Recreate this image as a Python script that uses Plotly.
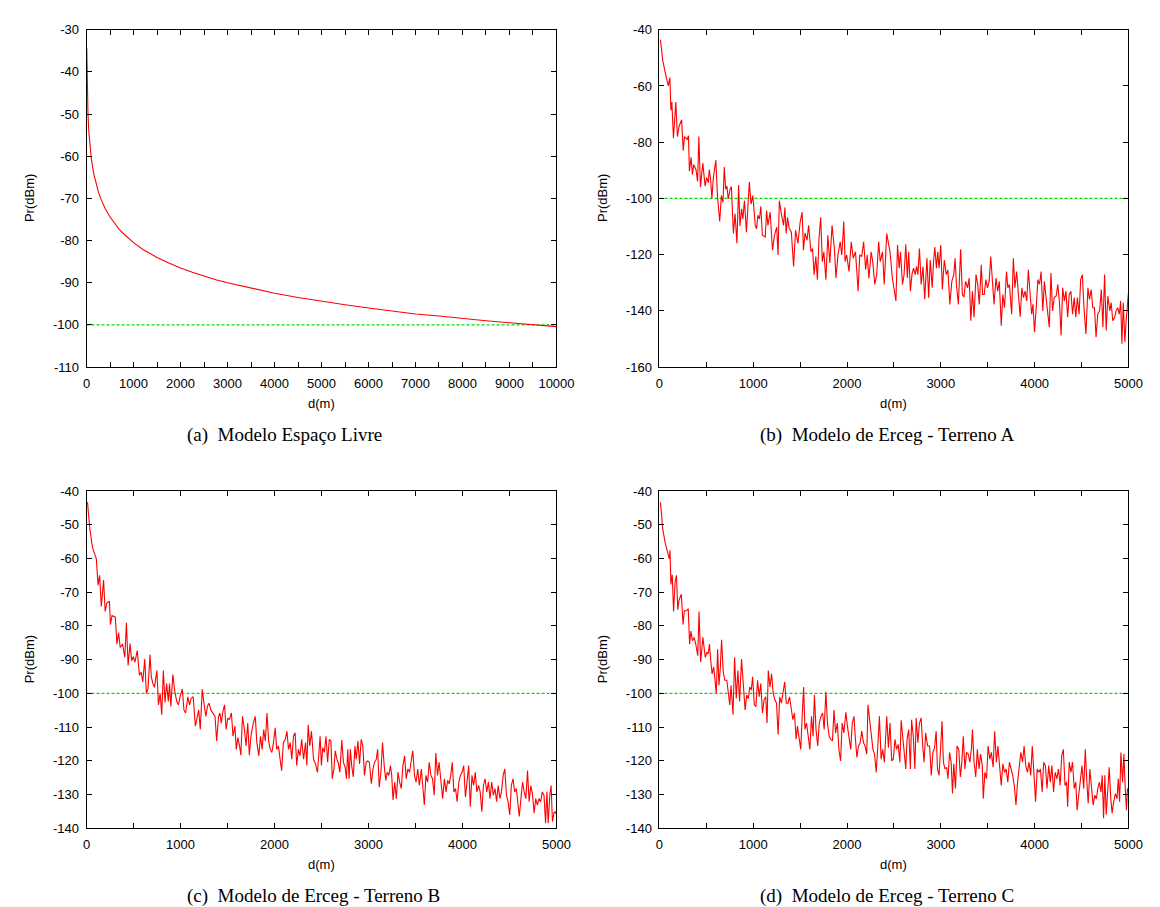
import plotly.graph_objects as go

# ---------------- data ----------------
THRESHOLD_DBM = -100

# (a) Free-space model
A_D = [5, 10, 20, 30, 50, 75, 100, 150, 200, 250, 300, 350, 400, 500, 600, 700, 800, 1000,
       1200, 1500, 1750, 2000, 2250, 2500, 2750, 3000, 3500, 4000, 4500, 5000, 5500, 6000,
       6500, 7000, 7500, 8000, 8500, 9000, 9500, 10000]
A_PR = [-34.4, -40.5, -46.5, -50.0, -54.4, -58.0, -60.5, -64.0, -66.5, -68.4, -70.0, -71.3,
        -72.5, -74.4, -76.0, -77.4, -78.5, -80.5, -82.1, -84.0, -85.3, -86.5, -87.5, -88.4,
        -89.3, -90.0, -91.3, -92.5, -93.5, -94.4, -95.2, -96.0, -96.7, -97.4, -97.9, -98.5,
        -99.0, -99.5, -100.0, -100.4]

# (b) Erceg - terrain A
B_D = [10, 35, 69, 94, 111, 122, 132, 149, 174, 191, 208, 236, 253, 267, 295, 309, 319, 337,
       351, 365, 389, 406, 420, 437, 462, 486, 503, 521, 531, 545, 559, 573, 601, 618, 642,
       660, 677, 691, 705, 719, 733, 753, 767, 788, 806, 826, 844, 858, 875, 889, 906, 927,
       958, 976, 996, 1021, 1035, 1049, 1066, 1080, 1097, 1128, 1142, 1156, 1180, 1205, 1226,
       1250, 1264, 1278, 1302, 1323, 1337, 1351, 1365, 1382, 1406, 1430, 1451, 1476, 1500,
       1521, 1535, 1552, 1573, 1590, 1615, 1632, 1649, 1667, 1684, 1701, 1719, 1736, 1753,
       1774, 1795, 1816, 1840, 1865, 1882, 1903, 1927, 1944, 1965, 1979, 1996, 2021, 2045,
       2066, 2090, 2118, 2135, 2156, 2177, 2198, 2215, 2233, 2257, 2274, 2295, 2316, 2337,
       2354, 2378, 2396,
       2423, 2441, 2458, 2483, 2500, 2521, 2538, 2556, 2570, 2591, 2608, 2626, 2643, 2657,
       2675, 2692, 2709, 2727, 2741, 2755, 2772, 2790, 2810, 2828, 2852, 2870, 2887, 2908,
       2922, 2936, 2953, 2967, 2981, 2999, 3016, 3037, 3058, 3075, 3096, 3117, 3138, 3152,
       3166, 3187, 3211, 3229, 3246, 3264, 3285, 3302, 3320, 3337, 3354, 3375, 3393, 3410,
       3431, 3445, 3463, 3480, 3497, 3515, 3532, 3550, 3567, 3588, 3606, 3623, 3644, 3661,
       3679, 3700, 3714, 3731, 3755, 3773, 3790, 3808, 3829, 3846, 3864, 3881, 3898, 3916,
       3933, 3954, 3968, 3982, 3999, 4017, 4034, 4052, 4069, 4087, 4104, 4122, 4139, 4156,
       4174, 4191, 4209, 4230, 4247, 4265, 4282, 4299, 4317, 4334, 4352, 4369, 4387, 4404,
       4422, 4439, 4456, 4474, 4491, 4509, 4526, 4547, 4568, 4585, 4603, 4620, 4638, 4655,
       4673, 4693, 4711, 4728, 4746, 4763, 4781, 4802, 4816, 4833, 4854, 4868, 4885, 4903,
       4917, 4931, 4945, 4962, 4976, 5000]
B_PR = [-43.5, -51, -56.4, -60, -57, -68.6, -65.7, -78.6, -65.7, -78, -74.5, -72, -83, -78,
        -79, -77.7, -90.3, -85.4, -91.5, -88, -89.7, -94, -78, -96, -87.4, -95.6, -92.6,
        -94.4, -89.7, -93.2, -100, -93, -86.4, -99, -108.2, -99, -101.4, -88.8, -96.7,
        -95.6, -100.2, -96.7, -95.8, -112.5, -105.5, -116, -95.2, -109.8, -103.7, -107.3,
        -100.8, -112, -94.2, -102, -99, -109.6, -110.8, -106, -107.3, -102.8, -113.1,
        -113.7, -104.3, -109.6, -104.9, -118.4, -113.1, -110.2, -120.1, -100.8, -106,
        -109.6, -103.2, -112.5, -106.7, -110.5, -112, -124.2, -111.3, -116, -108.4, -104.9,
        -118.4, -112.3, -114.9, -109.6, -119, -117.8, -127.1, -120.7, -128.9, -114.3,
        -106.7, -122.5, -119, -128.9, -113.1, -123, -109.6, -117.8, -128.3, -120.1, -115.4,
        -120.1, -108.2, -122.5, -120.1, -126, -115.4, -121.3, -119, -133, -120.1, -120.7,
        -115.4, -125.4, -120.1, -128.5, -119, -122.5, -130.6, -127.1, -115.4, -122.5, -119,
        -130.6,
        -112.5, -115.4, -119, -128.3, -131.8, -136.5, -116.6, -124.8, -119, -130.6, -127.1,
        -116.3, -128.3, -119, -133, -127.1, -124.8, -127.1, -124.2, -127.1, -117.8, -130.6,
        -124.2, -135.9, -121.3, -135.3, -121.9, -131.8, -122.5, -117.3, -124.8, -119,
        -124.8, -116.6, -132.4, -121.9, -127.1, -125.4, -137.7, -129.5, -127.1, -121.3,
        -130.6, -137.7, -118.1, -134.2, -135.1, -129.5, -131.8, -128.3, -143.5, -133,
        -142.3, -127.1, -130.6, -137.7, -123.6, -134.2, -134.2, -128.9, -131.8, -129.5,
        -120.7, -129.5, -137.7, -128.3, -133, -129.5, -145.3, -134.2, -138.9, -126, -131.8,
        -130.6, -141.2, -121.3, -131.8, -126, -134.2, -142.1, -131.8, -135.3, -133, -136.5,
        -125.4, -135.3, -141.2, -137.7, -147.6, -138.9, -128.9, -130.6, -126, -140, -129.5,
        -135.3, -140, -145.8, -126.5, -140, -135.3, -134.7, -130.6, -137.1, -148.8, -131.8,
        -136.5, -133, -142.3, -134.2, -133, -141.2, -135.3, -142.3, -135.3, -141.2, -128.9,
        -127.1, -138.9, -148.2, -131.8, -135.9, -132.4, -138.9, -138.9, -149.4, -141.2,
        -140, -132.4, -145.8, -127.1, -147, -134.7, -140, -137.1, -143.5, -142.3, -140,
        -138.9, -141.2, -136.5, -151.7, -137.1, -151.1, -143.5, -133.6]

# (c) Erceg - terrain B
C_D = [10, 35, 63, 87, 104, 122, 139, 157, 181, 198, 216, 243, 254, 271, 306, 323, 341, 358,
       383, 407, 424, 442, 463, 480, 497, 515, 539, 563, 581, 598, 619, 636, 654, 675, 689,
       706, 723, 748, 765, 783, 800, 817, 835, 852, 870, 883, 897, 918, 939, 960, 977, 995,
       1019, 1036, 1054, 1078, 1096, 1113, 1134, 1158, 1176, 1193, 1210, 1231, 1249, 1269,
       1287, 1304, 1322, 1346, 1367, 1384, 1405, 1419, 1433, 1450, 1468, 1485, 1503, 1520,
       1541, 1558, 1579, 1593, 1610, 1628, 1642, 1659, 1680, 1697, 1715, 1732, 1749, 1774,
       1795, 1812, 1833, 1850, 1868, 1885, 1902, 1920, 1937, 1955, 1972, 1989, 2007, 2024,
       2042, 2059, 2076, 2094, 2115, 2132, 2149, 2167, 2184, 2202, 2219, 2236, 2254, 2271,
       2289, 2309, 2330, 2344, 2358, 2375, 2393,
       2415, 2436, 2457, 2474, 2485, 2499, 2513, 2530, 2548, 2565, 2583, 2600, 2614, 2632,
       2646, 2663, 2677, 2695, 2716, 2733, 2751, 2765, 2779, 2793, 2807, 2821, 2838, 2856,
       2870, 2887, 2905, 2922, 2940, 2957, 2975, 2992, 3009, 3030, 3048, 3065, 3083, 3097,
       3114, 3132, 3149, 3167, 3184, 3198, 3216, 3233, 3247, 3261, 3279, 3296, 3314, 3331,
       3349, 3366, 3384, 3401, 3419, 3436, 3454, 3471, 3489, 3506, 3524, 3541, 3562, 3580,
       3594, 3611, 3629, 3646, 3664, 3681, 3699, 3716, 3734, 3751, 3769, 3789, 3807, 3825,
       3842, 3859, 3877, 3891, 3908, 3926, 3943, 3961, 3978, 3996, 4013, 4031, 4048, 4066,
       4083, 4101, 4118, 4136, 4153, 4171, 4188, 4206, 4223, 4241, 4258, 4276, 4293, 4311,
       4328, 4346, 4363, 4380, 4398, 4415, 4433, 4450, 4468, 4485, 4503, 4520, 4538, 4555,
       4573, 4590, 4604, 4622, 4639, 4657, 4674, 4692, 4709, 4727, 4744, 4762, 4779, 4797,
       4814, 4832, 4849, 4867, 4884, 4898, 4912, 4929, 4943, 4957, 4975, 4992, 5000]
C_PR = [-43.3, -51.3, -56.7, -59.1, -60.1, -67.9, -65, -74.2, -66.4, -75.7, -73.2, -72.7,
        -79.6, -76.9, -77.4, -85.4, -82, -86.4, -85.4, -89.3, -79.1, -91.7, -85.2, -90.3,
        -89.1, -90.7, -87.3, -94.6, -93.7, -96.6, -89.8, -100, -98.5, -88.5, -95.1, -97.1,
        -98.2, -93.2, -103.4, -100, -106.3, -93.2, -102.7, -97.1, -102.4, -97.1, -103.9,
        -94.4, -99.5, -102.4, -103.4, -101, -98.7, -104.9, -105.8, -101, -103.4, -101.5,
        -101, -109.7, -106.8, -104.9, -110.7, -98.8, -102.9, -106.8, -103.7, -102.9, -104.9,
        -105.8, -106.8, -114.1, -106.8, -105.8, -108.8, -105.4, -103.4, -110.7, -107.3,
        -107.8, -105.8, -112.7, -109.7, -116.6, -113.1, -115.6, -118.3, -106.8, -110.7,
        -115.6, -108.8, -118.3, -112.7, -108.8, -106.8, -114.6, -118.5, -112.7, -116.6,
        -110.7, -114.1, -105.8, -114.1, -116.6, -117.5, -114.6, -110.2, -116.6, -115.6,
        -119.5, -122.9, -114.6, -113.6, -111.2, -116.6, -114.6, -119.5, -112.7, -111.7,
        -121.4, -116.6, -118.5, -113.6, -119.5, -114.6, -121.4, -109.3, -115.6, -111.2,
        -119.5, -120.9, -123.4, -117.5, -112.7, -121.4, -116.1, -117.5, -112.7, -120.4,
        -113.6, -114.1, -125.3, -122.4, -117, -119.5, -120.4, -123.4, -113.8, -120.4,
        -121.9, -125.3, -116.6, -125.3, -116.6, -121.4, -124.8, -115.6, -119.5, -114.1,
        -120.9, -113.6, -115.6, -124.3, -120.4, -120, -120.4, -126.8, -122.4, -120.4,
        -119.5, -116.6, -127.8, -123.4, -114.6, -121.4, -125.8, -123.4, -124.3, -121.4,
        -124.3, -131.6, -126.3, -131.2, -123.4, -126.3, -128.2, -121.4, -118.5, -125.3,
        -122.4, -123.4, -119.5, -117, -124.3, -126.3, -122.4, -127.3, -122.4, -128.2,
        -133.1, -124.3, -126.3, -120.4, -124.3, -125.3, -130.2, -117.7, -124.3, -120.4,
        -126.3, -131.2, -125.3, -129.2, -125.8, -126.8, -123.9, -120.4, -129.2, -128.2,
        -132.1, -126.3, -124.3, -123.4, -121.4, -130.7, -126.3, -121.4, -133.6, -124.3,
        -127.3, -123.4, -129.2, -127.3, -129.2, -135.1, -127.3, -125.3, -129.2, -126.3,
        -131.2, -126.3, -130.2, -128.2, -132.1, -127.3, -131.2, -129.2, -124.3, -122.4,
        -130.2, -132.1, -136, -127.3, -125.3, -129.2, -128.2, -132.1, -136.5, -131.2,
        -126.3, -129.2, -131.2, -122.9, -132.1, -127.3, -129.7, -135.5, -131.2, -133.1,
        -131.2, -132.1, -129.2, -130.2, -138.5, -129.2, -138.5, -130.2, -127.3, -138,
        -135.1, -135.5, -134.6]

# (d) Erceg - terrain C
D_D = [10, 35, 63, 87, 105, 112, 122, 136, 150, 167, 181, 195, 209, 233, 251, 265, 289, 307,
       321, 335, 352, 369, 387, 408, 422, 439, 463, 488, 505, 519, 533, 547, 561, 578, 596,
       606, 620, 634, 648, 662, 680, 697, 718, 735, 749, 763, 784, 801, 819, 836, 854, 875,
       896, 913, 930, 948, 962, 979, 993, 1011, 1028, 1046, 1063, 1080, 1098, 1115, 1133,
       1147, 1160, 1178, 1195, 1213, 1230, 1248, 1265, 1282, 1300, 1317, 1335, 1352, 1370,
       1387, 1404, 1422, 1439, 1457, 1471, 1488, 1506, 1523, 1537, 1551, 1568, 1586, 1603,
       1621, 1638, 1652, 1669, 1687, 1704, 1722, 1739, 1756, 1774, 1791, 1809, 1826, 1844,
       1861, 1878, 1896, 1913, 1931, 1948, 1966, 1987, 2004, 2021, 2039, 2056, 2074, 2087,
       2105, 2122, 2140, 2157, 2175, 2192, 2210, 2223, 2241, 2258, 2276, 2293, 2311, 2328,
       2345, 2363, 2380, 2398,
       2423, 2441, 2458, 2476, 2493, 2511, 2528, 2545, 2563, 2577, 2594, 2612, 2626, 2640,
       2657, 2675, 2688, 2706, 2723, 2737, 2755, 2772, 2790, 2807, 2821, 2838, 2859, 2880,
       2898, 2915, 2933, 2950, 2964, 2981, 2999, 3013, 3027, 3044, 3062, 3076, 3093, 3110,
       3124, 3138, 3156, 3173, 3191, 3208, 3225, 3239, 3257, 3274, 3292, 3309, 3327, 3337,
       3354, 3372, 3389, 3407, 3424, 3442, 3452, 3470, 3487, 3504, 3522, 3539, 3557, 3574,
       3592, 3609, 3626, 3644, 3661, 3679, 3696, 3714, 3731, 3748, 3766, 3783, 3801, 3818,
       3836, 3853, 3871, 3888, 3905, 3923, 3940, 3958, 3975, 3993, 4010, 4027, 4045, 4062,
       4080, 4097, 4115, 4132, 4150, 4167, 4184, 4202, 4219, 4237, 4254, 4272, 4289, 4306,
       4324, 4341, 4352, 4369, 4387, 4404, 4422, 4439, 4453, 4470, 4488, 4505, 4523, 4540,
       4557, 4571, 4589, 4606, 4624, 4641, 4659, 4673, 4690, 4707, 4721, 4735, 4749, 4763,
       4777, 4795, 4812, 4826, 4843, 4861, 4878, 4892, 4906, 4920, 4938, 4952, 4965, 4979,
       4990, 5000]
D_PR = [-43.3, -51.3, -55.7, -58.6, -60.1, -57.6, -67.7, -64.8, -75.7, -66.9, -65, -75.2,
        -72.3, -70.6, -79.6, -75.5, -75.5, -74.9, -85.4, -81.5, -84.4, -83.4, -85.4, -88.8,
        -75.7, -90.7, -83.4, -89.3, -87.8, -88.3, -85.4, -90.3, -94.2, -92.2, -97.1, -100,
        -86.9, -97.6, -92.7, -84.1, -93.7, -96.1, -96.1, -99.5, -103.4, -97.6, -106.3,
        -89.3, -101.5, -93.2, -102.4, -89.8, -97.1, -104.9, -100.5, -101.5, -98.1, -99,
        -95.1, -103.4, -103.9, -96.1, -101, -97.1, -105.8, -101.9, -101, -108.8, -93.2,
        -98.1, -94.2, -100, -101.9, -102.9, -112.2, -101, -102.9, -99, -96.6, -102.9,
        -102.9, -101, -104.9, -107.8, -105.8, -113.6, -109.7, -113.6, -116.6, -105.8, -98.1,
        -110.7, -108.8, -112.7, -116.6, -106.8, -112.7, -100.5, -110.7, -115.6, -108.8,
        -106.8, -105.8, -110.7, -99.5, -108.8, -112.7, -113.6, -114.1, -104.9, -111.7,
        -108.8, -116.6, -120, -108.8, -111.7, -105.6, -109.7, -113.6, -116.6, -108.8,
        -106.8, -112.7, -119, -115.6, -114.6, -111.2, -114.6, -115.6, -118, -103.4, -107.8,
        -112.7, -116.6, -118, -123.4, -115.6, -106.8, -119.5, -116.6, -120.4,
        -106.8, -116.1, -108.8, -120, -119.5, -113.6, -116.6, -115.1, -120.4, -108, -112.7,
        -116.6, -122.4, -113.6, -110.7, -122.4, -107.8, -112.7, -122.4, -107.3, -114.6,
        -108.8, -107.3, -115.6, -120.4, -111.7, -115.6, -115.6, -124.3, -117.5, -116.1,
        -111.2, -122.4, -124.3, -113.6, -108.3, -120.4, -122.4, -121.9, -125.3, -117.5,
        -120.4, -129.7, -120.9, -128.2, -115.6, -116.6, -124.8, -120, -112.7, -122.4,
        -117.5, -118, -120.4, -116.1, -110.7, -120.4, -124.8, -116.6, -122.4, -118, -121.4,
        -131.2, -123.4, -125.3, -115.6, -119.5, -117.5, -121.9, -111.2, -120.4, -115.6,
        -121.4, -127.3, -120.9, -123.4, -122.4, -126.3, -120.4, -122.4, -124.3, -127.3,
        -133.1, -126.3, -122.4, -117.5, -120.4, -115.6, -121.4, -123.4, -120.4, -124.3,
        -115.6, -126.3, -132.1, -122.4, -123.4, -122.4, -129.2, -120.4, -121.4, -128.2,
        -121.4, -126.3, -121.4, -129.2, -123.4, -125.3, -122.4, -127.3, -118.5, -116.6,
        -127.3, -126.3, -133.6, -120.4, -123.4, -120.4, -128.2, -126.3, -134.6, -130.2,
        -126.3, -121.4, -128.2, -116.6, -126.3, -132.6, -122.4, -128.2, -133.1, -130.2,
        -131.2, -128.2, -126.3, -129.2, -124.3, -137, -124.3, -136, -128.2, -121.9, -131.2,
        -135.5, -132.1, -129.7, -131.2, -125.3, -132.1, -117.5, -126.3, -118, -127.3,
        -134.6, -128.2, -129.2]

# axis ticks / ranges
A_X_TICKS = [0, 1000, 2000, 3000, 4000, 5000, 6000, 7000, 8000, 9000, 10000]
A_Y_TICKS = [-110, -100, -90, -80, -70, -60, -50, -40, -30]
B_X_TICKS = [0, 1000, 2000, 3000, 4000, 5000]
B_Y_TICKS = [-160, -140, -120, -100, -80, -60, -40]
CD_Y_TICKS = [-140, -130, -120, -110, -100, -90, -80, -70, -60, -50, -40]

CAPTIONS = ["(a)\u00a0 Modelo Espaço Livre",
            "(b)\u00a0 Modelo de Erceg - Terreno A",
            "(c)\u00a0 Modelo de Erceg - Terreno B",
            "(d)\u00a0 Modelo de Erceg - Terreno C"]

# ---------------- layout helpers ----------------
W, H = 1160, 907
def fx(p):
    return p / W
def fy(p):
    return 1 - p / H

# panel boxes in pixels: (left, right, top, bottom)
BOXES = [(76, 555, 15, 358), (660, 1138, 15, 358), (76, 555, 484, 827), (660, 1138, 484, 827)]

TICK_FONT = dict(family="Liberation Sans, Arial, sans-serif", size=13, color="black")
CAP_FONT = dict(family="Liberation Serif, Times New Roman, serif", size=19, color="black")

panels = [
    (A_D, A_PR, A_X_TICKS, A_Y_TICKS),
    (B_D, B_PR, B_X_TICKS, B_Y_TICKS),
    (C_D, C_PR, B_X_TICKS, CD_Y_TICKS),
    (D_D, D_PR, B_X_TICKS, CD_Y_TICKS),
]

fig = go.Figure()
layout = dict(width=W, height=H, margin=dict(l=0, r=0, t=0, b=0),
              paper_bgcolor="white", plot_bgcolor="white", showlegend=False,
              annotations=[], shapes=[])

for i, (dx, dy, xt, yt) in enumerate(panels):
    n = "" if i == 0 else str(i + 1)
    L, R, T, B = BOXES[i]
    xa = dict(domain=[fx(L), fx(R)], range=[xt[0], xt[-1]], anchor="y" + n,
              tickmode="array", tickvals=xt, ticktext=[str(v) for v in xt],
              ticks="inside", ticklen=5, tickcolor="black", tickwidth=1,
              ticklabelstandoff=4,
              minor=dict(dtick=500, tick0=0, ticks="inside", ticklen=5,
                         tickcolor="black", tickwidth=1, showgrid=False),
              showline=True, linecolor="black", linewidth=1, mirror="allticks",
              showgrid=False, zeroline=False, tickfont=TICK_FONT)
    ya = dict(domain=[fy(B), fy(T)], range=[yt[0], yt[-1]], anchor="x" + n,
              tickmode="array", tickvals=yt, ticktext=[str(v) for v in yt],
              ticks="inside", ticklen=5, tickcolor="black", tickwidth=1,
              ticklabelstandoff=4,
              showline=True, linecolor="black", linewidth=1, mirror="allticks",
              showgrid=False, zeroline=False, tickfont=TICK_FONT)
    layout["xaxis" + n] = xa
    layout["yaxis" + n] = ya

    fig.add_trace(go.Scatter(x=dx, y=dy, mode="lines", xaxis="x" + n, yaxis="y" + n,
                             line=dict(color="#ff0000", width=1.1), hoverinfo="skip"))
    # threshold line across the whole panel
    layout["shapes"].append(dict(type="line", xref="x" + n + " domain", x0=0, x1=1,
                                 yref="y" + n, y0=THRESHOLD_DBM, y1=THRESHOLD_DBM,
                                 line=dict(color="#00e000", width=1.2, dash="3px,2px"),
                                 layer="below"))
    cy = (T + B) / 2
    cx = (L + R) / 2
    layout["annotations"].append(dict(text="Pr(dBm)", textangle=-90, xref="paper", yref="paper",
                                      x=fx(L - 58), y=fy(cy), showarrow=False,
                                      xanchor="center", yanchor="middle", font=TICK_FONT))
    layout["annotations"].append(dict(text="d(m)", xref="paper", yref="paper",
                                      x=fx(cx), y=fy(B + 37), showarrow=False,
                                      xanchor="center", yanchor="middle", font=TICK_FONT))
    layout["annotations"].append(dict(text=CAPTIONS[i], xref="paper", yref="paper",
                                      x=fx(L + 100), y=fy(B + 69), showarrow=False,
                                      xanchor="left", yanchor="middle", font=CAP_FONT))

fig.update_layout(**layout)
fig.write_html("out.html")
